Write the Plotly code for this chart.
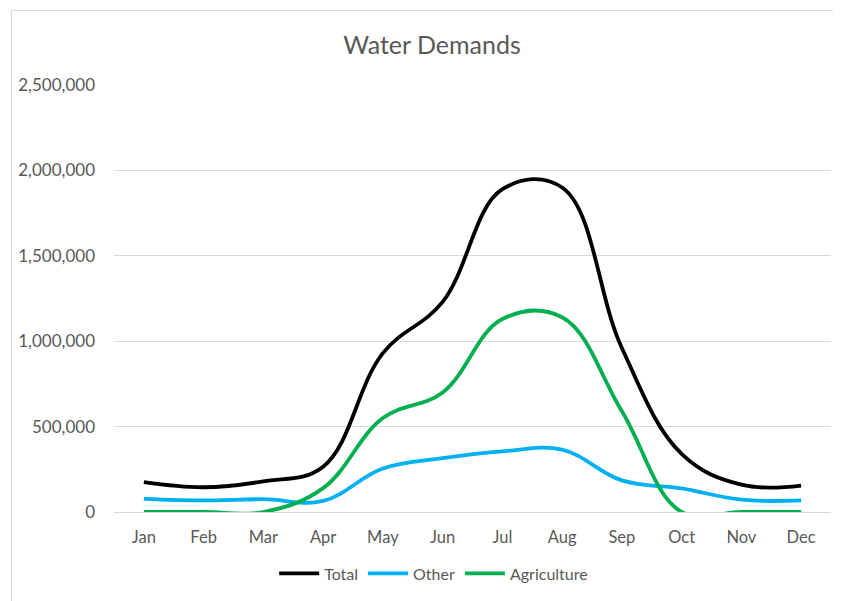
import plotly.graph_objects as go

MONTHS = ["Jan", "Feb", "Mar", "Apr", "May", "Jun",
          "Jul", "Aug", "Sep", "Oct", "Nov", "Dec"]
TOTAL = [175000, 145000, 180000, 265000, 930000, 1230000,
         1890000, 1900000, 960000, 340000, 160000, 155000]
OTHER = [77000, 68000, 75000, 65000, 255000, 315000,
         355000, 365000, 185000, 138000, 72000, 68000]
AGRICULTURE = [0, 0, 0, 140000, 550000, 700000,
               1130000, 1140000, 590000, 0, 0, 0]

TEXT = "#595959"
GRID = "#D9D9D9"
FONT = "Lato, 'Open Sans', sans-serif"

# page body has an 8px margin, so size the figure to fit inside the window
OFF = 8
W, H = 833, 593
L, R, T, B = 103, 10, 77, 86
PW, PH = W - L - R, H - T - B


def px_x(p):
    # window pixel -> paper x
    return (p - OFF - L) / PW


def px_y(p):
    # window pixel -> paper y
    return (H - B - (p - OFF)) / PH


fig = go.Figure()
for name, vals, color in [("Total", TOTAL, "#000000"),
                          ("Other", OTHER, "#00B0F0"),
                          ("Agriculture", AGRICULTURE, "#00B050")]:
    fig.add_trace(go.Scatter(
        x=MONTHS, y=vals, name=name, mode="lines",
        line=dict(color=color, width=3.8, shape="spline", smoothing=1.1),
    ))

# outer chart border (Excel chart area)
fig.add_shape(type="rect", xref="paper", yref="paper",
              x0=px_x(8), x1=px_x(850), y0=px_y(610), y1=px_y(10),
              line=dict(color="#D9D9D9", width=1), layer="below")

fig.update_layout(
    width=W, height=H,
    paper_bgcolor="white", plot_bgcolor="white",
    font=dict(family=FONT, size=16, color=TEXT),
    margin=dict(l=L, r=R, t=T, b=B),
    title=dict(text="Water Demands", font=dict(size=25, color=TEXT),
               x=(432 - OFF) / W, xref="container", xanchor="center",
               y=1 - (45 - OFF) / H, yref="container", yanchor="middle"),
    xaxis=dict(range=[-0.5, 11.5], showgrid=False, showline=True,
               linecolor=GRID, linewidth=1, ticks="", ticklabelstandoff=10,
               tickfont=dict(size=16.5, color=TEXT), zeroline=False),
    yaxis=dict(range=[0, 2500000], dtick=500000, tickformat=",",
               showgrid=True, gridcolor=GRID, gridwidth=1, zeroline=False,
               showline=False, ticks="", ticklabelstandoff=18,
               tickfont=dict(size=17, color=TEXT)),
    legend=dict(orientation="h", x=px_x(432), xanchor="center",
                y=px_y(577), yanchor="middle",
                font=dict(size=16, color=TEXT), itemwidth=40,
                bgcolor="rgba(0,0,0,0)"),
    showlegend=True,
)

fig.write_html("out.html")
